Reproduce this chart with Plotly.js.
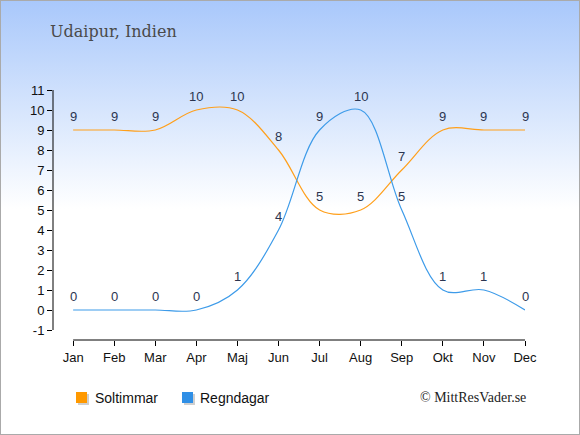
<!DOCTYPE html>
<html><head><meta charset="utf-8">
<script src="https://cdn.plot.ly/plotly-3.0.1.min.js"></script>
<style>
html,body{margin:0;padding:0;}
body{width:580px;height:435px;overflow:hidden;}
#wrap{position:absolute;left:0;top:0;width:578px;height:433px;border:1px solid #aaaaaa;background:linear-gradient(to bottom,#a9c8fb 0%,#d6e5fd 25%,#ffffff 48%,#ffffff 100%);}
#chart{position:absolute;left:-1px;top:-1px;width:580px;height:435px;}
</style></head>
<body><div id="wrap"></div><div id="chart"></div>
<script>
const months = ["Jan","Feb","Mar","Apr","Maj","Jun","Jul","Aug","Sep","Okt","Nov","Dec"];
const soltimmar = [9,9,9,10,10,8,5,5,7,9,9,9];
const regndagar = [0,0,0,0,1,4,9,10,5,1,1,0];
const yTicks = [-1,0,1,2,3,4,5,6,7,8,9,10,11];
const yTickText = ["-1","0","1","2","3","4","5","6","7","8","9","10","11"];
const seriesNames = ["Soltimmar","Regndagar"];
const orange = "#ff9f1a";
const blue = "#3d9be9";
const idx = months.map((m,i)=>i);
const sans = "Liberation Sans, Arial, sans-serif";
const serif = "Liberation Serif, Times New Roman, serif";
const labelFont = {family:sans, size:13, color:"#2b3550"};
const traces = [
 {x:idx, y:soltimmar, mode:"lines", line:{color:orange,width:1.2,shape:"spline",smoothing:1}, showlegend:false, hoverinfo:"skip"},
 {x:idx, y:regndagar, mode:"lines", line:{color:blue,width:1.2,shape:"spline",smoothing:1}, showlegend:false, hoverinfo:"skip"}
];
const L = 54, T = 91, W = 472, H = 250;
const px = v => (v - L) / W;
const py = v => 1 - (v - T) / H;
const annotations = [];
[soltimmar, regndagar].forEach(arr => arr.forEach((v,i) => annotations.push(
  {x:i, y:v, xref:"x", yref:"y", text:String(v), showarrow:false, yshift:14, font:labelFont, xanchor:"center", yanchor:"middle"})));
annotations.push({text:seriesNames[0], xref:"paper", yref:"paper", x:px(94), y:py(399), xanchor:"left", yanchor:"middle", showarrow:false, font:{family:sans,size:14,color:"#111"}});
annotations.push({text:seriesNames[1], xref:"paper", yref:"paper", x:px(199), y:py(399), xanchor:"left", yanchor:"middle", showarrow:false, font:{family:sans,size:14,color:"#111"}});
annotations.push({text:"© MittResVader.se", xref:"paper", yref:"paper", x:px(529), xanchor:"right", y:py(398), yanchor:"middle", showarrow:false, font:{family:serif, size:14, color:"#222"}});
const shapes = [
  {type:"line", xref:"paper", x0:0, x1:0, yref:"y", y0:-1, y1:11, line:{color:"#000",width:1}},
  {type:"line", xref:"x", x0:0, x1:11, yref:"paper", y0:0, y1:0, line:{color:"#000",width:1}},
  {type:"rect", xref:"paper", yref:"paper", x0:px(79), x1:px(90), y0:py(395), y1:py(406), line:{width:0}, fillcolor:"#cfcfcf"},
  {type:"rect", xref:"paper", yref:"paper", x0:px(77), x1:px(88), y0:py(393), y1:py(404), line:{width:0}, fillcolor:"#ff9900"},
  {type:"rect", xref:"paper", yref:"paper", x0:px(185), x1:px(196), y0:py(395), y1:py(406), line:{width:0}, fillcolor:"#cfcfcf"},
  {type:"rect", xref:"paper", yref:"paper", x0:px(183), x1:px(194), y0:py(393), y1:py(404), line:{width:0}, fillcolor:"#2f8fe6"}
];
const axFont = {family:sans, size:13, color:"#111"};
const layout = {
 width:580, height:435,
 paper_bgcolor:"rgba(0,0,0,0)", plot_bgcolor:"rgba(0,0,0,0)",
 margin:{l:L, r:580-L-W, t:T, b:435-T-H},
 showlegend:false,
 title:{text:"Udaipur, Indien", x:51/580, xanchor:"left", y:1-32/435, yanchor:"middle",
   font:{family:"DejaVu Serif, serif", size:16, color:"#4a4a4a"}},
 xaxis:{range:[-0.49,11], tickvals:idx, ticktext:months, showgrid:false, zeroline:false, showline:false,
   ticks:"outside", ticklen:5, tickcolor:"#000", tickfont:axFont, fixedrange:true},
 yaxis:{range:[-1.5,11], tickvals:yTicks, ticktext:yTickText, showgrid:false, zeroline:false, showline:false,
   ticks:"outside", ticklen:5, tickcolor:"#000", tickfont:axFont, fixedrange:true},
 shapes:shapes,
 annotations:annotations
};
Plotly.newPlot("chart", traces, layout, {displayModeBar:false, staticPlot:true});
</script></body></html>
